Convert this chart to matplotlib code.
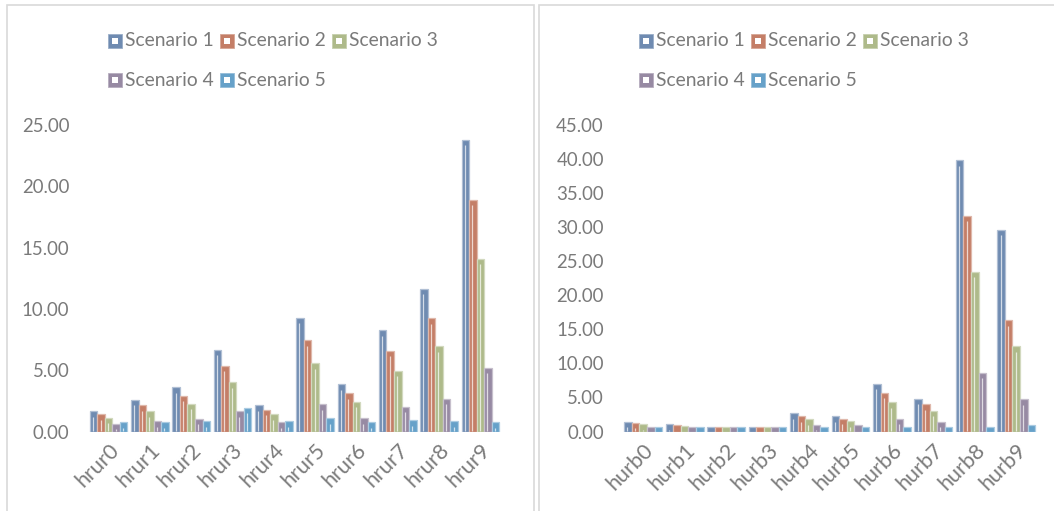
import matplotlib
matplotlib.use("Agg")
import matplotlib.pyplot as plt
from matplotlib.patches import Rectangle
import numpy as np

# ---- data ----
rural_labels = ["hrur0", "hrur1", "hrur2", "hrur3", "hrur4",
                "hrur5", "hrur6", "hrur7", "hrur8", "hrur9"]
urban_labels = ["hurb0", "hurb1", "hurb2", "hurb3", "hurb4",
                "hurb5", "hurb6", "hurb7", "hurb8", "hurb9"]
scenario_names = ["Scenario 1", "Scenario 2", "Scenario 3", "Scenario 4", "Scenario 5"]

rural_s1 = [1.66, 2.61, 3.61, 6.68, 2.15, 9.29, 3.86, 8.26, 11.63, 23.78]
rural_s2 = [1.39, 2.15, 2.93, 5.35, 1.79, 7.45, 3.13, 6.58, 9.24, 18.91]
rural_s3 = [1.11, 1.66, 2.28, 4.02, 1.41, 5.57, 2.42, 4.95, 6.96, 14.08]
rural_s4 = [0.65, 0.84, 1.06, 1.66, 0.76, 2.23, 1.09, 2.01, 2.69, 5.22]
rural_s5 = [0.76, 0.76, 0.84, 1.93, 0.84, 1.09, 0.76, 0.92, 0.84, 0.76]

urban_s1 = [1.42, 1.07, 0.68, 0.63, 2.64, 2.24, 7.03, 4.83, 39.73, 29.58]
urban_s2 = [1.27, 0.93, 0.63, 0.63, 2.20, 1.90, 5.71, 4.00, 31.63, 16.30]
urban_s3 = [1.07, 0.78, 0.63, 0.63, 1.76, 1.51, 4.29, 3.07, 23.38, 12.49]
urban_s4 = [0.73, 0.68, 0.63, 0.63, 1.02, 0.93, 1.90, 1.42, 8.64, 4.73]
urban_s5 = [0.59, 0.59, 0.63, 0.63, 0.68, 0.59, 0.59, 0.59, 0.73, 0.88]

rural_ticks = [0, 5, 10, 15, 20, 25]
urban_ticks = [0, 5, 10, 15, 20, 25, 30, 35, 40, 45]

# ---- style ----
colors = ["#6F8BB1", "#C47E67", "#AEBA8A", "#978AA3", "#66A1C9"]
text_color = "#7A7A7A"
font = "Lato"
fs = 13.4
fs_legend = 13.9
fs_cat = 15.5

W, H = 1054, 511
fig = plt.figure(figsize=(W / 100, H / 100), dpi=100)
fig.patch.set_facecolor("white")


def fx(px):
    return px / W


def fy(py):
    return 1 - py / H


def lighten(c, f):
    rgb = np.array(matplotlib.colors.to_rgb(c))
    return tuple(rgb + (1 - rgb) * f)


# panel frames
for (x0, x1) in [(7, 534), (539, 1060)]:
    fig.add_artist(Rectangle((fx(x0), fy(520)), fx(x1 - x0), (520 - 5) / H,
                             transform=fig.transFigure, facecolor="none",
                             edgecolor="#D9D9D9", linewidth=1.2, clip_on=False))


def draw_panel(rect, labels, series, ticks, legend_x):
    ax = fig.add_axes(rect)
    n = len(series)
    x = np.arange(len(labels))
    bw = 0.1825
    ax.set_xlim(-0.5, len(labels) - 0.5)
    ax.set_ylim(0, ticks[-1])
    ax_h_px = rect[3] * H
    px_per_unit = ax_h_px / ticks[-1]
    for i, vals in enumerate(series):
        pos = x + (i - (n - 1) / 2) * bw
        ax.bar(pos, vals, width=bw, color=colors[i],
               edgecolor=lighten(colors[i], 0.45), linewidth=0.9, zorder=2)
        # inner highlight stroke
        vals_arr = np.array(vals)
        top = vals_arr - 5.5 / px_per_unit
        hx = pos - bw * 0.08
        ax.vlines(hx, 0.5 / px_per_unit, np.maximum(top, 0.6 / px_per_unit),
                  colors=lighten(colors[i], 0.7), linewidth=0.9, zorder=3)
    for s in ax.spines.values():
        s.set_visible(False)
    ax.set_yticks(ticks)
    ax.set_yticklabels([f"{t:.2f}" for t in ticks])
    ax.set_xticks(x)
    ax.set_xticklabels(labels, rotation=45, ha="right", va="top",
                       rotation_mode="anchor")
    ax.tick_params(axis="both", length=0, colors=text_color)
    ax.tick_params(axis="y", pad=13.5, labelsize=fs)
    ax.tick_params(axis="x", pad=6, labelsize=fs_cat)
    for lab in ax.get_xticklabels() + ax.get_yticklabels():
        lab.set_fontfamily(font)
        lab.set_color(text_color)

    # legend: two rows
    positions = [(0, 0), (1, 0), (2, 0), (0, 1), (1, 1)]
    col_w = 112
    row_y = [41, 80]
    for i, name in enumerate(scenario_names):
        c, r = positions[i]
        mx = legend_x + c * col_w
        my = row_y[r]
        s = 14
        fig.add_artist(Rectangle((fx(mx), fy(my + s / 2)), fx(s), s / H,
                                 transform=fig.transFigure, facecolor=colors[i],
                                 edgecolor=lighten(colors[i], 0.3), linewidth=0.6))
        si = 5.5
        fig.add_artist(Rectangle((fx(mx + (s - si) / 2), fy(my + si / 2)), fx(si), si / H,
                                 transform=fig.transFigure, facecolor="white",
                                 edgecolor="none"))
        fig.text(fx(mx + s + 3), fy(my), name, fontsize=fs_legend, family=font,
                 color=text_color, ha="left", va="center")
    return ax


draw_panel([fx(88), fy(431.5), fx(413), (431.5 - 125) / H],
           rural_labels,
           [rural_s1, rural_s2, rural_s3, rural_s4, rural_s5],
           rural_ticks, 108)
draw_panel([fx(622.5), fy(431.5), fx(414.5), (431.5 - 124.5) / H],
           urban_labels,
           [urban_s1, urban_s2, urban_s3, urban_s4, urban_s5],
           urban_ticks, 639)

fig.savefig("out.png", dpi=100, facecolor="white")
